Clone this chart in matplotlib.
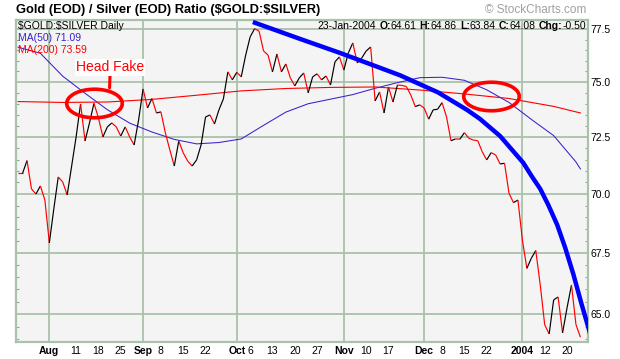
import numpy as np
import matplotlib
matplotlib.use("Agg")
import matplotlib.pyplot as plt
from matplotlib.collections import LineCollection
from matplotlib.path import Path
from matplotlib.ticker import FixedLocator, NullFormatter, FuncFormatter

plt.rcParams['font.family'] = ['Liberation Sans', 'DejaVu Sans']

# gold / silver ratio, one close per trading day (late Jul 2003 .. 23 Jan 2004)
ratio = [70.90, 70.90, 71.46, 70.22, 70.00, 70.35, 69.74, 67.92, 69.36, 70.74,
         70.52, 69.96, 71.22, 72.51, 74.00, 72.33, 73.14, 74.03, 73.37, 72.51,
         72.96, 73.14, 72.96, 72.55, 72.96, 72.51, 72.15, 73.27, 74.69, 73.82,
         74.25, 73.59, 73.64, 72.69, 71.93, 71.22, 72.33, 71.80, 71.44, 71.22,
         71.49, 72.15, 73.41, 73.50, 73.09, 73.73, 74.23, 75.48, 75.11, 75.46,
         75.25, 76.27, 77.13, 77.52, 77.40, 76.46, 76.27, 75.48, 76.32, 75.48,
         75.85, 75.20, 74.83, 75.20, 75.43, 74.51, 75.25, 75.39, 75.11, 75.29,
         74.87, 75.95, 76.18, 75.57, 76.37, 76.84, 75.90, 76.13, 76.46, 76.65,
         74.14, 74.55, 73.59, 74.78, 74.09, 74.87, 74.85, 74.80, 74.41, 73.88,
         73.96, 73.81, 73.31, 73.73, 73.76, 74.06, 73.41, 72.34, 72.42, 72.41,
         72.70, 72.45, 72.37, 72.34, 71.85, 71.49, 71.81, 71.71, 71.31, 71.34,
         70.03, 69.63, 69.74, 68.04, 66.86, 67.28, 67.60, 66.18, 64.57, 64.21,
         65.57, 65.69, 64.25, 65.25, 66.18, 64.58, 64.08]

# moving averages read every few days
ma50_days = [0, 5, 10, 15, 20, 25, 30, 35, 40, 45, 50, 55, 60, 65, 70,
             75, 80, 85, 90, 95, 100, 105, 110, 115, 120, 125, 126]
ma50 = [76.64, 76.35, 75.28, 74.49, 73.74, 73.13, 72.73, 72.40, 72.20, 72.26,
        72.42, 73.03, 73.63, 74.01, 74.22, 74.43, 74.72, 74.98, 75.21, 75.23,
        75.09, 74.65, 74.07, 73.30, 72.57, 71.40, 71.09]
ma200_days = [0, 10, 20, 30, 40, 50, 60, 70, 80, 90, 100, 110, 120, 126]
ma200 = [74.11, 74.07, 74.09, 74.21, 74.40, 74.60, 74.71, 74.76, 74.78, 74.64,
         74.46, 74.25, 73.89, 73.59]

tick_days = [7, 13, 18, 23, 28, 32, 37, 42, 49, 52, 57, 62, 67, 73, 78, 83,
             91, 95, 100, 105, 113, 118, 123]
tick_labels = ['Aug', '11', '18', '25', 'Sep', '8', '15', '22', 'Oct', '6', '13',
               '20', '27', 'Nov', '10', '17', 'Dec', '8', '15', '22', '2004',
               '12', '20']
month_labels = ['Aug', 'Sep', 'Oct', 'Nov', 'Dec', '2004']
y_ticks = [65.0, 67.5, 70.0, 72.5, 75.0, 77.5]

# hand drawn annotations
curve_days = [52.6, 63.2, 72.1, 79.3, 85.6, 94.1, 100.6, 103.5, 108.0, 110.7,
              113.2, 115.2, 117.0, 118.8, 120.8, 122.6, 124.4, 126.2, 128.2]
curve_vals = [77.84, 77.03, 76.37, 75.81, 75.32, 74.53, 73.73, 73.32, 72.55, 71.93,
              71.36, 70.74, 70.22, 69.53, 68.68, 67.71, 66.63, 65.44, 64.21]
ring_days = [17.1, 105.9]
ring_vals = [74.04, 74.37]

grid_col = '#A9C2A9'
ma50_col = '#3A20CC'

fig = plt.figure(figsize=(6.2, 3.59), dpi=100)
ax = fig.add_axes([16 / 620, 17 / 359, 572 / 620, 322.5 / 359])
ax.set_facecolor('#F4F4F4')
ax.set_yscale('log')
ax.set_xlim(-0.47, 127.7)
ax.set_ylim(63.89, 77.96)

# grid
for m in month_labels:
    ax.axvline(tick_days[tick_labels.index(m)], color=grid_col, lw=1.3, zorder=1)
ax.yaxis.set_major_locator(FixedLocator(y_ticks))
ax.yaxis.set_major_formatter(FuncFormatter(lambda v, p: '%.1f' % v))
ax.yaxis.set_minor_locator(FixedLocator(np.arange(64.0, 78.0, 0.5)))
ax.yaxis.set_minor_formatter(NullFormatter())
ax.grid(axis='y', which='major', color=grid_col, lw=1.3, zorder=1)
for s in ax.spines.values():
    s.set_color(grid_col)
    s.set_linewidth(1.6)

ax.tick_params(axis='y', which='both', direction='in', left=True, right=True,
               labelleft=False, labelright=True, color='#8FA88F',
               labelsize=7.5, pad=2)
ax.tick_params(axis='y', which='major', length=0)
ax.tick_params(axis='y', which='minor', length=2.5, width=0.8)

ax.set_xticks(tick_days)
ax.set_xticklabels(tick_labels)
ax.tick_params(axis='x', length=0, labelsize=7.5, pad=3)
for t in ax.get_xticklabels():
    if t.get_text() in month_labels:
        t.set_fontweight('bold')

# price line, black on up days, red on down days
days = np.arange(len(ratio))
pts = np.column_stack([days, ratio])
segs = np.stack([pts[:-1], pts[1:]], axis=1)
cols = ['black' if ratio[i + 1] > ratio[i] else '#FF0000' for i in range(len(ratio) - 1)]
ax.add_collection(LineCollection(segs, colors=cols, linewidths=0.85, zorder=3))

ax.plot(ma50_days, ma50, color=ma50_col, lw=0.75, zorder=2)
ax.plot(ma200_days, ma200, color='#FF0000', lw=0.8, zorder=2)

# annotations
ax.plot(curve_days, curve_vals, color='#0000FF', lw=3.2, zorder=5,
        solid_capstyle='butt', solid_joinstyle='round')
th = np.linspace(0, 2 * np.pi, 120)
ell = Path(np.column_stack([np.cos(th) * 55.5, np.sin(th) * 28.5]))
ax.plot(ring_days, ring_vals, ls='none', marker=ell, ms=40, mfc='none',
        mec='#FF0000', mew=2.6, zorder=6)
ax.annotate('Head Fake', xy=(20.5, 74.74), xytext=(20.6, 75.69),
            ha='center', va='center', color='#FF0000', fontsize=10,
            bbox=dict(boxstyle='square,pad=0.1', fc='white', ec='none'),
            arrowprops=dict(arrowstyle='-', color='#FF0000', lw=2.2,
                            shrinkA=0, shrinkB=0, relpos=(0.5, 0)),
            zorder=7)

# header inside the plot
ax.text(0.004, 0.979, r'\$GOLD:\$SILVER Daily', transform=ax.transAxes,
        ha='left', va='center', fontsize=7.5)
ax.text(0.004, 0.942, 'MA(50) %.2f' % ma50[-1], transform=ax.transAxes,
        ha='left', va='center', fontsize=7.5, color=ma50_col)
ax.text(0.004, 0.905, 'MA(200) %.2f' % ma200[-1], transform=ax.transAxes,
        ha='left', va='center', fontsize=7.5, color='#FF0000')

chg = ratio[-1] - ratio[-2]
parts = [('23-Jan-2004', 'normal', 2.2), ('O:', 'bold', 0), ('64.61', 'normal', 2.2),
         ('H:', 'bold', 0), ('64.86', 'normal', 2.2), ('L:', 'bold', 0),
         ('63.84', 'normal', 2.2), ('C:', 'bold', 0), ('%.2f' % ratio[-1], 'normal', 2.2),
         ('Chg:', 'bold', 0), ('%.2f' % chg, 'normal', 0)]
prev = ax.text(0.9965, 0.979, parts[-1][0], transform=ax.transAxes, ha='right',
               va='center', fontsize=7.5, fontweight=parts[-1][1])
for txt, w, gap in reversed(parts[:-1]):
    prev = ax.annotate(txt, xy=(0, 0.5), xycoords=prev, xytext=(-gap, 0),
                       textcoords='offset points', ha='right', va='center',
                       fontsize=7.5, fontweight=w)

fig.text(16 / 620, 1 - 10 / 359, r'Gold (EOD) / Silver (EOD) Ratio (\$GOLD:\$SILVER)',
         ha='left', va='center', fontsize=9.3, fontweight='bold')
fig.text(586 / 620, 1 - 10 / 359, '\u00a9 StockCharts.com', ha='right',
         va='center', fontsize=8.5, color='#A0A0A0')

fig.savefig('out.png', dpi=100)
